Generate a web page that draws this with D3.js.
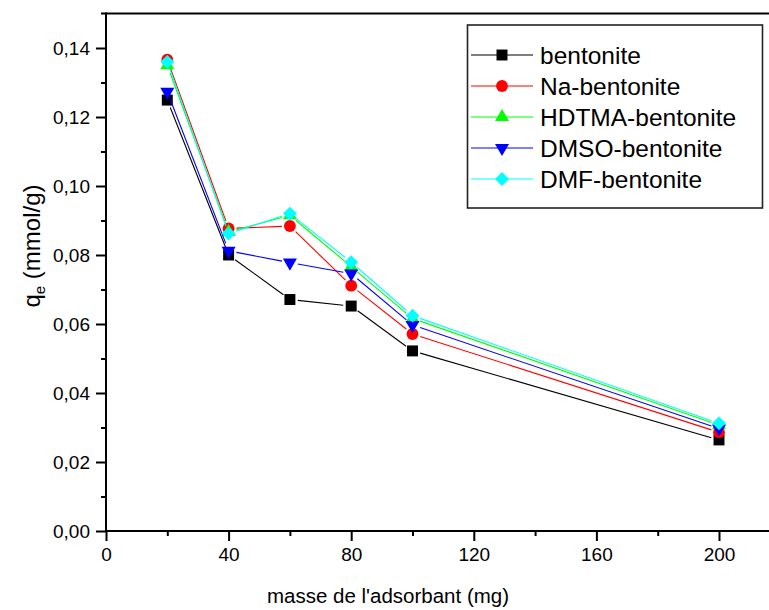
<!DOCTYPE html>
<html>
<head>
<meta charset="utf-8">
<script src="https://cdn.jsdelivr.net/npm/d3@7"></script>
<style>
  html, body { margin: 0; padding: 0; background: #fff; }
  svg { display: block; }
  text { font-family: "Liberation Sans", Arial, sans-serif; fill: #000; }
</style>
</head>
<body>
<svg id="chart" width="769" height="610"></svg>
<script>
// ---- data ----
const masses = [20, 40, 60, 80, 100, 200];
const seriesNames = ["bentonite", "Na-bentonite", "HDTMA-bentonite", "DMSO-bentonite", "DMF-bentonite"];
const bentonite   = [0.1249, 0.0800, 0.0671, 0.0652, 0.0522, 0.0264];
const naBentonite = [0.1366, 0.0877, 0.0884, 0.0711, 0.0571, 0.0286];
const hdtmaBent   = [0.1350, 0.0867, 0.0915, 0.0766, 0.0616, 0.0307];
const dmsoBent    = [0.1273, 0.0812, 0.0778, 0.0746, 0.0597, 0.0297];
const dmfBent     = [0.1360, 0.0862, 0.0920, 0.0779, 0.0624, 0.0312];
const xTickValues = [0, 40, 80, 120, 160, 200];
const xMinorValues = [20, 60, 100, 140, 180];
const yTickValues = [0, 0.02, 0.04, 0.06, 0.08, 0.10, 0.12, 0.14];
const yMinorValues = [0.01, 0.03, 0.05, 0.07, 0.09, 0.11, 0.13];

const seriesValues = [bentonite, naBentonite, hdtmaBent, dmsoBent, dmfBent];
const colors = ["#000000", "#ff0000", "#00ff00", "#0000ff", "#00ffff"];
const shapes = ["square", "circle", "triangle", "triangleDown", "diamond"];

// ---- layout ----
const svg = d3.select("#chart");
const x = d3.scaleLinear().domain([0, 220]).range([106, 780.3]);
const y = d3.scaleLinear().domain([0, 0.15]).range([531, 13.5]);

function symbolPath(shape) {
  switch (shape) {
    case "square": return d3.symbol(d3.symbolSquare, 120)();
    case "circle": return d3.symbol(d3.symbolCircle, 110)();
    case "triangle": return d3.symbol(d3.symbolTriangle, 85)();
    case "triangleDown": return d3.symbol(d3.symbolTriangle, 85)();
    case "diamond": return d3.symbol(d3.symbolSquare, 95)();
  }
}
function symbolRotate(shape) {
  if (shape === "triangleDown") return " rotate(180)";
  if (shape === "diamond") return " rotate(45)";
  return "";
}

// ---- axes ----
const axisG = svg.append("g");
const xAxis = d3.axisBottom(x).tickValues(xTickValues).tickSize(10).tickPadding(7)
  .tickFormat(d3.format("d"));
axisG.append("g").attr("transform", `translate(0,${y(0)})`).call(xAxis)
  .call(g => g.select(".domain").remove())
  .call(g => g.selectAll("line").attr("stroke-width", 2))
  .call(g => g.selectAll("text").attr("font-size", 19).attr("font-family", "Liberation Sans, Arial, sans-serif"));
const xMinor = d3.axisBottom(x).tickValues(xMinorValues).tickSize(5).tickFormat("");
axisG.append("g").attr("transform", `translate(0,${y(0)})`).call(xMinor)
  .call(g => g.select(".domain").remove())
  .call(g => g.selectAll("line").attr("stroke-width", 2));

const fmtY = d => d3.format(".2f")(d).replace(".", ",");
const yAxis = d3.axisLeft(y).tickValues(yTickValues).tickSize(10).tickPadding(6).tickFormat(fmtY);
axisG.append("g").attr("transform", `translate(${x(0)},0)`).call(yAxis)
  .call(g => g.select(".domain").remove())
  .call(g => g.selectAll("line").attr("stroke-width", 2))
  .call(g => g.selectAll("text").attr("font-size", 19).attr("font-family", "Liberation Sans, Arial, sans-serif"));
const yMinor = d3.axisLeft(y).tickValues(yMinorValues).tickSize(5).tickFormat("");
axisG.append("g").attr("transform", `translate(${x(0)},0)`).call(yMinor)
  .call(g => g.select(".domain").remove())
  .call(g => g.selectAll("line").attr("stroke-width", 2));

// frame lines
axisG.append("line").attr("x1", x(0) - 5).attr("x2", 769).attr("y1", y(0.15)).attr("y2", y(0.15))
  .attr("stroke", "#000").attr("stroke-width", 2);
axisG.append("line").attr("x1", x(0)).attr("x2", 769).attr("y1", y(0)).attr("y2", y(0))
  .attr("stroke", "#000").attr("stroke-width", 2);
axisG.append("line").attr("x1", x(0)).attr("x2", x(0)).attr("y1", y(0.15) - 1).attr("y2", y(0) + 1)
  .attr("stroke", "#000").attr("stroke-width", 2);

// axis titles
svg.append("text").attr("x", 388).attr("y", 603)
  .attr("text-anchor", "middle").attr("font-size", 20.5)
  .text("masse de l'adsorbant (mg)");

const yt = svg.append("text").attr("transform", `translate(40,246) rotate(-90)`)
  .attr("text-anchor", "middle").attr("font-size", 24);
yt.append("tspan").text("q");
yt.append("tspan").attr("font-size", 15).attr("dy", 5).text("e");
yt.append("tspan").attr("dy", -5).text(" (mmol/g)");

// ---- series ----
const gap = 8;
const plot = svg.append("g");
seriesValues.forEach((vals, si) => {
  const pts = masses.map((m, i) => [x(m), y(vals[i])]);
  const g = plot.append("g");
  for (let i = 0; i < pts.length - 1; i++) {
    const [x1, y1] = pts[i], [x2, y2] = pts[i + 1];
    const dx = x2 - x1, dy = y2 - y1, len = Math.hypot(dx, dy);
    const ux = dx / len, uy = dy / len;
    g.append("line")
      .attr("x1", x1 + ux * gap).attr("y1", y1 + uy * gap)
      .attr("x2", x2 - ux * gap).attr("y2", y2 - uy * gap)
      .attr("stroke", colors[si]).attr("stroke-width", 1.1);
  }
  g.selectAll("path.m").data(pts).enter().append("path")
    .attr("class", "m")
    .attr("d", symbolPath(shapes[si]))
    .attr("transform", d => `translate(${d[0]},${d[1]})${symbolRotate(shapes[si])}`)
    .attr("fill", colors[si]);
});

// ---- legend ----
const lg = svg.append("g");
lg.append("rect").attr("x", 467.5).attr("y", 25).attr("width", 295).attr("height", 183)
  .attr("fill", "#fff").attr("stroke", "#222").attr("stroke-width", 1.6);
seriesNames.forEach((name, si) => {
  const cy = 55 + si * 31;
  lg.append("line").attr("x1", 471).attr("x2", 533).attr("y1", cy).attr("y2", cy)
    .attr("stroke", colors[si]).attr("stroke-width", 1.1);
  lg.append("path").attr("d", symbolPath(shapes[si]))
    .attr("transform", `translate(502,${cy})${symbolRotate(shapes[si])}`)
    .attr("fill", colors[si]);
  lg.append("text").attr("x", 540).attr("y", cy + 8.5).attr("font-size", 24.5).text(name);
});
</script>
</body>
</html>
